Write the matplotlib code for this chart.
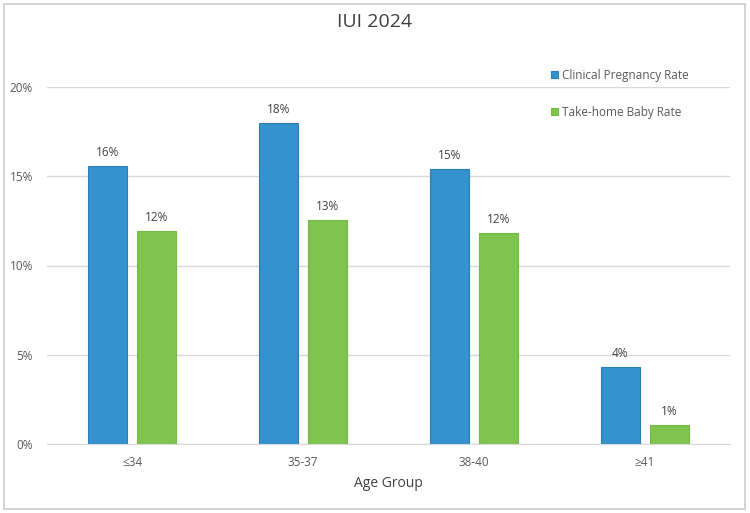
import numpy as np
import matplotlib
matplotlib.use('Agg')
import matplotlib.pyplot as plt
from matplotlib.patches import Rectangle

groups = ['≤34', '35-37', '38-40', '≥41']
clinical = [15.6, 18.0, 15.4, 4.3]
takehome = [11.95, 12.55, 11.8, 1.05]
clinical_lbl = ['16%', '18%', '15%', '4%']
takehome_lbl = ['12%', '13%', '12%', '1%']
yticks = [0, 5, 10, 15, 20]

plt.rcParams['font.family'] = ['Open Sans', 'DejaVu Sans']

blue = '#3492cc'
green = '#80c450'
txt = '#595959'

fig = plt.figure(figsize=(7.5, 5.13), dpi=100)
fig.patches.append(Rectangle((0.005, 0.008), 0.988, 0.984, transform=fig.transFigure,
                             fill=False, edgecolor='#d0d0d0', lw=1.3))
ax = fig.add_axes([47/750, 1-444/513, 683/750, 357/513])

x = np.arange(len(groups))
w = 0.228
off = w/2 + 0.03
b1 = ax.bar(x - off, clinical, w, color=blue, edgecolor='#2a7fb8', lw=0.8,
            label='Clinical Pregnancy Rate')
b2 = ax.bar(x + off, takehome, w, color=green, edgecolor='#74b845', lw=0.8,
            label='Take-home Baby Rate')
for bars, lbls in ((b1, clinical_lbl), (b2, takehome_lbl)):
    for r, l in zip(bars, lbls):
        ax.annotate(l, (r.get_x() + r.get_width()/2, r.get_height()),
                    xytext=(0, 5), textcoords='offset points', ha='center', va='bottom',
                    fontsize=8.5, color='#404040')

ax.set_xlim(-0.5, len(groups) - 0.5)
ax.set_ylim(0, 20)
ax.set_yticks(yticks)
ax.set_yticklabels(['{:d}%'.format(t) for t in yticks])
ax.set_xticks(x)
ax.set_xticklabels(groups)
ax.yaxis.grid(True, color='#d9d9d9', lw=1)
ax.set_axisbelow(True)
for s in ['top', 'right', 'left']:
    ax.spines[s].set_visible(False)
ax.spines['bottom'].set_color('#d9d9d9')
ax.tick_params(axis='both', length=0, labelsize=8.5, colors=txt)
ax.tick_params(axis='x', pad=9)
ax.tick_params(axis='y', pad=10)
ax.set_xlabel('Age Group', fontsize=10, color='#404040', labelpad=5)

fig.text(0.5, 1-22/513, 'IUI 2024', ha='center', va='center', fontsize=14, color='#404040')

ax.legend(loc='upper left', bbox_to_anchor=(545/750, 1-63/513), bbox_transform=fig.transFigure,
          frameon=False, fontsize=8.5, labelcolor=txt, handlelength=0.6, handleheight=0.6,
          handletextpad=0.3, labelspacing=2.0, borderpad=0)

fig.savefig('out.png', dpi=100)
